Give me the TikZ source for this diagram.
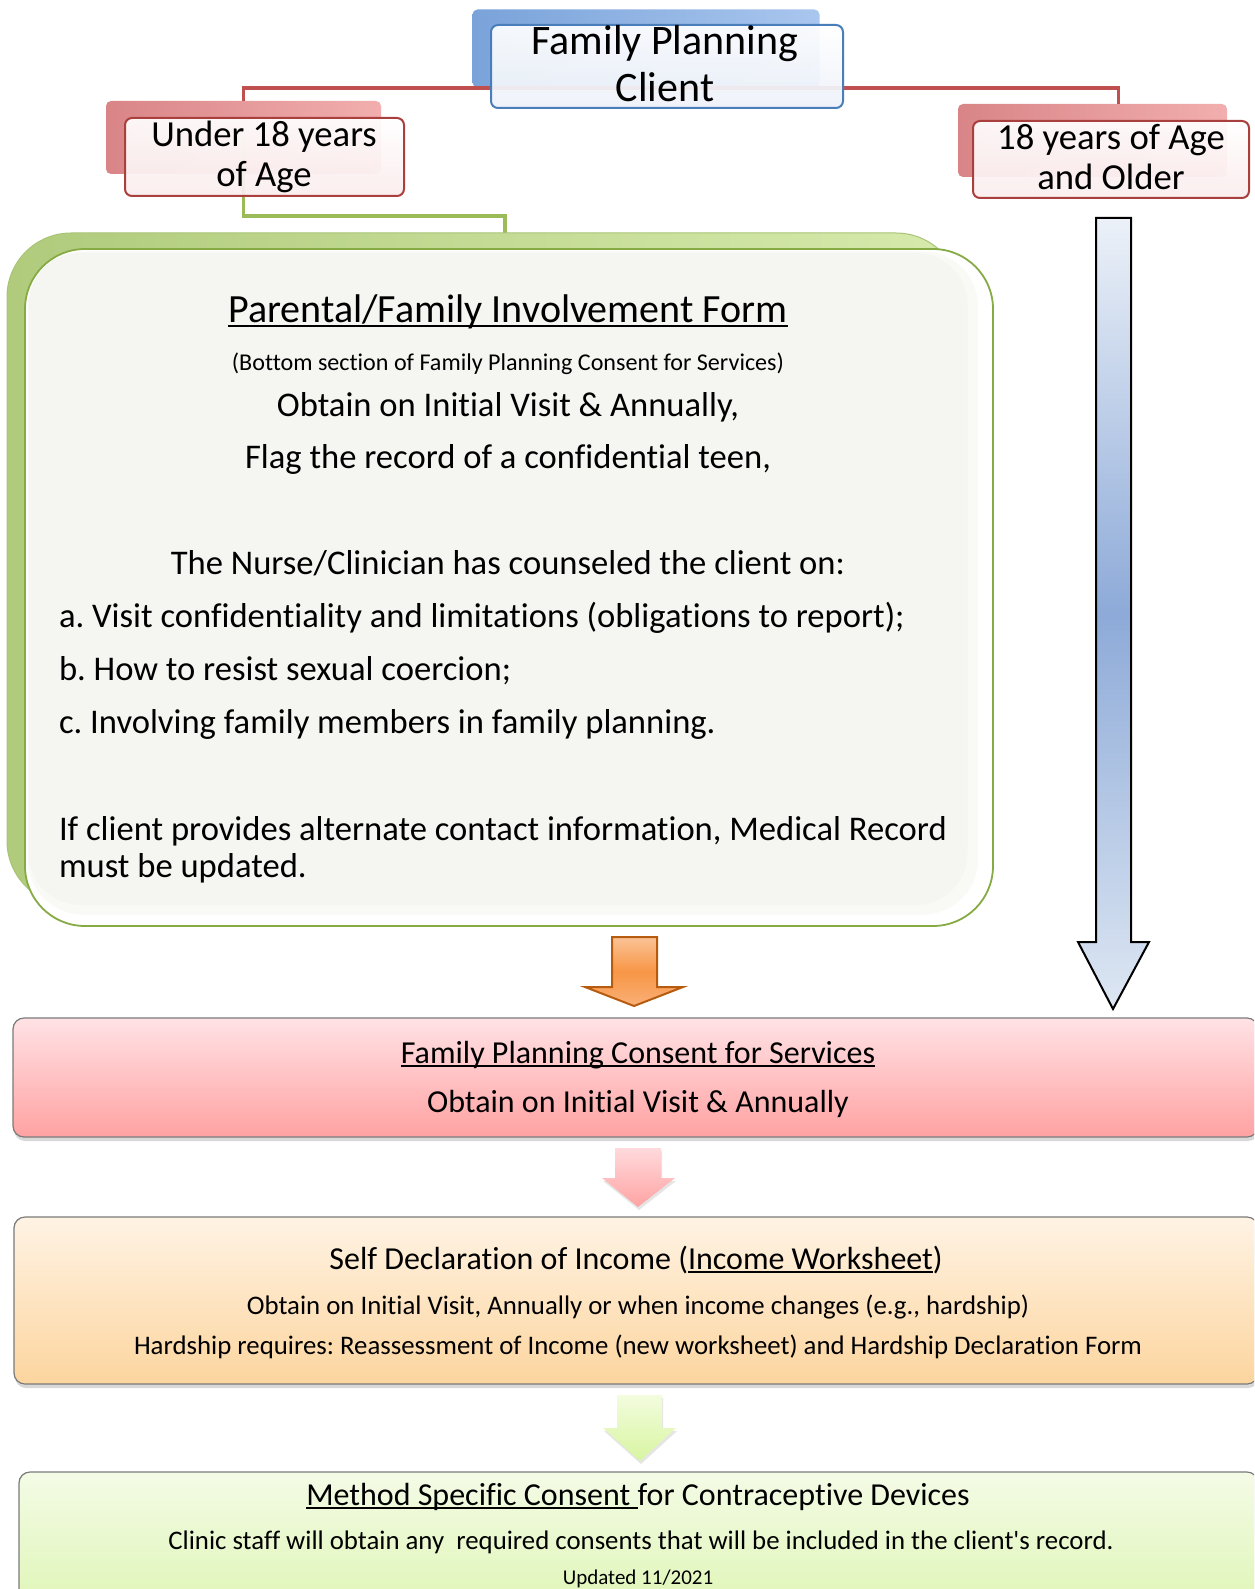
\documentclass[tikz,border=0pt]{standalone}
\usepackage{fontspec}
\setmainfont{Carlito}[Ligatures=NoCommon]
\newfontfamily\carlplain{Carlito}[Ligatures=NoCommon]
\usetikzlibrary{shadows}
\newcommand\fsz[2]{\fontsize{#1}{#2}\selectfont}
\newcommand\myul[1]{\setbox0\hbox{#1}\rlap{\rule[-0.12em]{\wd0}{0.055em}}\box0}
\definecolor{redln}{HTML}{C0504D}
\definecolor{greenln}{HTML}{9BBB59}
\definecolor{blueedge}{HTML}{4A7EBB}
\definecolor{rededge}{HTML}{A9403D}
\definecolor{greenedge}{HTML}{86AB45}
\definecolor{grayedge}{HTML}{7A7A7A}
\definecolor{cbl1}{HTML}{7AA3DA}
\definecolor{cbl2}{HTML}{A9C6EE}
\definecolor{crd1}{HTML}{D98587}
\definecolor{crd2}{HTML}{F2AEAE}
\definecolor{cbf}{HTML}{EEF2F9}
\definecolor{crf}{HTML}{FBEDEE}
\tikzset{
 txt/.style={anchor=base, inner sep=0pt, outer sep=0pt},
 ltxt/.style={anchor=base west, inner sep=0pt, outer sep=0pt},
 boxbase/.style={rectangle, inner sep=0pt, outer sep=0pt},
 blueback/.style={boxbase, rounded corners=5pt, left color=cbl1, right color=cbl2},
 redback/.style={boxbase, rounded corners=5pt, left color=crd1, right color=crd2},
 bluefront/.style={boxbase, rounded corners=7pt, draw=blueedge, line width=2pt, top color=white, bottom color=cbf, fill opacity=0.93},
 redfront/.style={boxbase, rounded corners=7pt, draw=rededge, line width=2pt, top color=white, bottom color=crf, fill opacity=0.93},
 flowbox/.style={boxbase, rounded corners=11pt, draw=grayedge, line width=1.2pt, drop shadow={shadow xshift=1pt, shadow yshift=-4pt, opacity=0.3}},
 redline/.style={draw=redln, line width=3.5pt},
 greenline/.style={draw=greenln, line width=3.5pt},
}
\begin{document}
\frenchspacing
\begin{tikzpicture}[x=1pt,y=-1pt]
\useasboundingbox (0,0) rectangle (1254,1589);
\fill[white] (0,0) rectangle (1254,1589);
\clip (0,0) rectangle (1254,1589);

% ---- boxes (back layers) ----
\node[blueback, minimum width=347pt, minimum height=78pt] (fpcb) at (646,48.5) {};
\node[redback, minimum width=275pt, minimum height=73pt] (u18b) at (243.5,137.5) {};
\node[redback, minimum width=269pt, minimum height=73pt] (o18b) at (1092.5,140.5) {};

% ---- connectors ----
\coordinate (redbus) at (667,88);
\coordinate (gbus) at (505,216);
\draw[redline] (u18b.north) |- (redbus) -| ([xshift=26pt]o18b.north);
\draw[greenline] (u18b.center) |- (gbus) -- (505,234);

% ---- front boxes ----
\node[bluefront, minimum width=352pt, minimum height=83pt] (fpc) at (667,66.5) {};
\node[redfront, minimum width=279pt, minimum height=78pt] (u18) at (264.5,157) {};
\node[redfront, minimum width=276pt, minimum height=77pt] (o18) at (1111,159.5) {};

\node[txt, font=\fsz{42}{47}] (t1) at (665,55) {Family Planning};
\node[txt, font=\fsz{42}{47}] (t2) at (665,102) {Client};
\node[txt, font=\fsz{36.7}{40}] (t3) at (264,147) {Under 18 years};
\node[txt, font=\fsz{36.7}{40}] (t4) at (264,187) {of Age};
\node[txt, font=\fsz{36.7}{40}] (t5) at (1111,150) {18 years of Age};
\node[txt, font=\fsz{36.7}{40}] (t6) at (1111,190) {and Older};

% ---- big green box ----
\node[boxbase, rounded corners=64pt, left color={rgb,255:red,176;green,203;blue,124}, right color={rgb,255:red,214;green,234;blue,172}, draw={rgb,255:red,170;green,196;blue,118}, line width=1pt, minimum width=953pt, minimum height=672pt] (gb) at (483.5,569) {};
\node[boxbase, rounded corners=60pt, fill=white, draw=greenedge, line width=1.8pt, minimum width=968pt, minimum height=677pt] (gf) at (509,587.5) {};
\node[boxbase, rounded corners=55pt, fill={rgb,255:red,249;green,249;blue,246}, minimum width=950pt, minimum height=663pt] (gi0) at (503,583) {};
\node[boxbase, rounded corners=52pt, fill={rgb,255:red,245;green,245;blue,241}, minimum width=939pt, minimum height=652pt] (gi) at (498,579) {};

\node[txt, font=\fsz{40}{46}] (g1) at (508,322) {\myul{Parental/Family Involvement Form}};
\node[txt, font=\fsz{24.1}{28}] (g2) at (508,370) {(Bottom section of Family Planning Consent for Services)};
\node[txt, font=\fsz{34.6}{40}] (g3) at (508,416) {Obtain on Initial Visit \& Annually,};
\node[txt, font=\fsz{34.6}{40}] (g4) at (508,468) {Flag the record of a confidential teen,};
\node[txt, font=\fsz{34.6}{40}] (g5) at (508,574) {The Nurse/Clinician has counseled the client on:};
\node[ltxt, font=\fsz{34.6}{40}] (g6) at (59,627) {a. Visit confidentiality and limitations (obligations to report);};
\node[ltxt, font=\fsz{34.6}{40}] (g7) at (59,680) {b. How to resist sexual coercion;};
\node[ltxt, font=\fsz{34.6}{40}] (g8) at (59,733) {c. Involving family members in family planning.};
\node[ltxt, font=\fsz{34.6}{40}] (g9) at (59,840) {If client provides alternate contact information, Medical Record};
\node[ltxt, font=\fsz{34.6}{40}] (g10) at (59,877) {must be updated.};

% ---- blue long arrow ----
\coordinate (ba1) at (1096,218);
\coordinate (ba2) at (1113,1009);
\path[draw=black, line width=2pt, line join=miter, top color={rgb,255:red,236;green,241;blue,248}, bottom color={rgb,255:red,222;green,231;blue,243}, middle color={rgb,255:red,141;green,170;blue,216}]
 (ba1) -- (1131,218) -- (1131,942) -- (1149,942) -- (ba2) -- (1078,942) -- (1096,942) -- cycle;

% ---- orange arrow ----
\coordinate (oa1) at (612,937);
\coordinate (oa2) at (634,1006);
\path[draw={rgb,255:red,183;green,91;blue,15}, line width=2pt, line join=miter, top color={rgb,255:red,251;green,195;blue,150}, bottom color={rgb,255:red,250;green,176;blue,120}, middle color={rgb,255:red,247;green,150;blue,70}]
 (oa1) -- (657,937) -- (657,987) -- (683,987) -- (oa2) -- (585,987) -- (612,987) -- cycle;

% ---- pink box ----
\node[flowbox, top color={rgb,255:red,255;green,226;blue,229}, bottom color={rgb,255:red,255;green,162;blue,162}, minimum width=1245pt, minimum height=119pt] (pk) at (635.5,1077.5) {};
\node[txt, font=\fsz{32}{38}] (p1) at (638,1063) {\myul{Family Planning Consent for Services}};
\node[txt, font=\fsz{32}{38}] (p2) at (638,1112) {Obtain on Initial Visit \& Annually};

% ---- pink arrow ----
\path[drop shadow={shadow xshift=1pt, shadow yshift=-3pt, opacity=0.2}, top color={rgb,255:red,255;green,218;blue,220}, bottom color={rgb,255:red,255;green,163;blue,163}]
 (615,1148) -- (661,1148) -- (661,1178) -- (675,1178) -- (638,1207) -- (602,1178) -- (615,1178) -- cycle;

% ---- orange box ----
\node[flowbox, top color={rgb,255:red,255;green,243;blue,228}, bottom color={rgb,255:red,252;green,213;blue,158}, minimum width=1244pt, minimum height=167pt] (ob) at (636,1300.5) {};
\node[txt, font=\fsz{32}{38}] (o1) at (636,1269) {Self Declaration of Income (\myul{Income Worksheet})};
\node[txt, font=\fsz{26.8}{30}] (o2) at (638,1314) {Obtain on Initial Visit, Annually or when income changes (e.g., hardship)};
\node[txt, font=\fsz{26.8}{30}] (o3) at (638,1354) {Hardship requires: Reassessment of Income (new worksheet) and Hardship Declaration Form};

% ---- green arrow ----
\path[drop shadow={shadow xshift=1pt, shadow yshift=-3pt, opacity=0.2}, top color={rgb,255:red,243;green,252;blue,222}, bottom color={rgb,255:red,215;green,245;blue,160}]
 (617,1395) -- (662,1395) -- (662,1428) -- (676,1428) -- (640,1461) -- (603,1428) -- (617,1428) -- cycle;

% ---- green bottom box ----
\node[flowbox, top color={rgb,255:red,244;green,251;blue,230}, bottom color={rgb,255:red,221;green,245;blue,178}, minimum width=1239pt, minimum height=150pt] (mb) at (638.5,1547) {};
\node[txt, font=\fsz{32}{38}] (m1) at (638,1505) {\myul{Method Specific Consent~}for Contraceptive Devices};
\node[txt, font=\carlplain\fsz{26.8}{30}] (m2) at (641,1549) {Clinic staff will obtain any~ required consents that will be included in the client\symbol{39}s record.};
\node[txt, font=\fsz{21}{25}] (m3) at (638,1584) {Updated 11/2021};
\end{tikzpicture}
\end{document}
